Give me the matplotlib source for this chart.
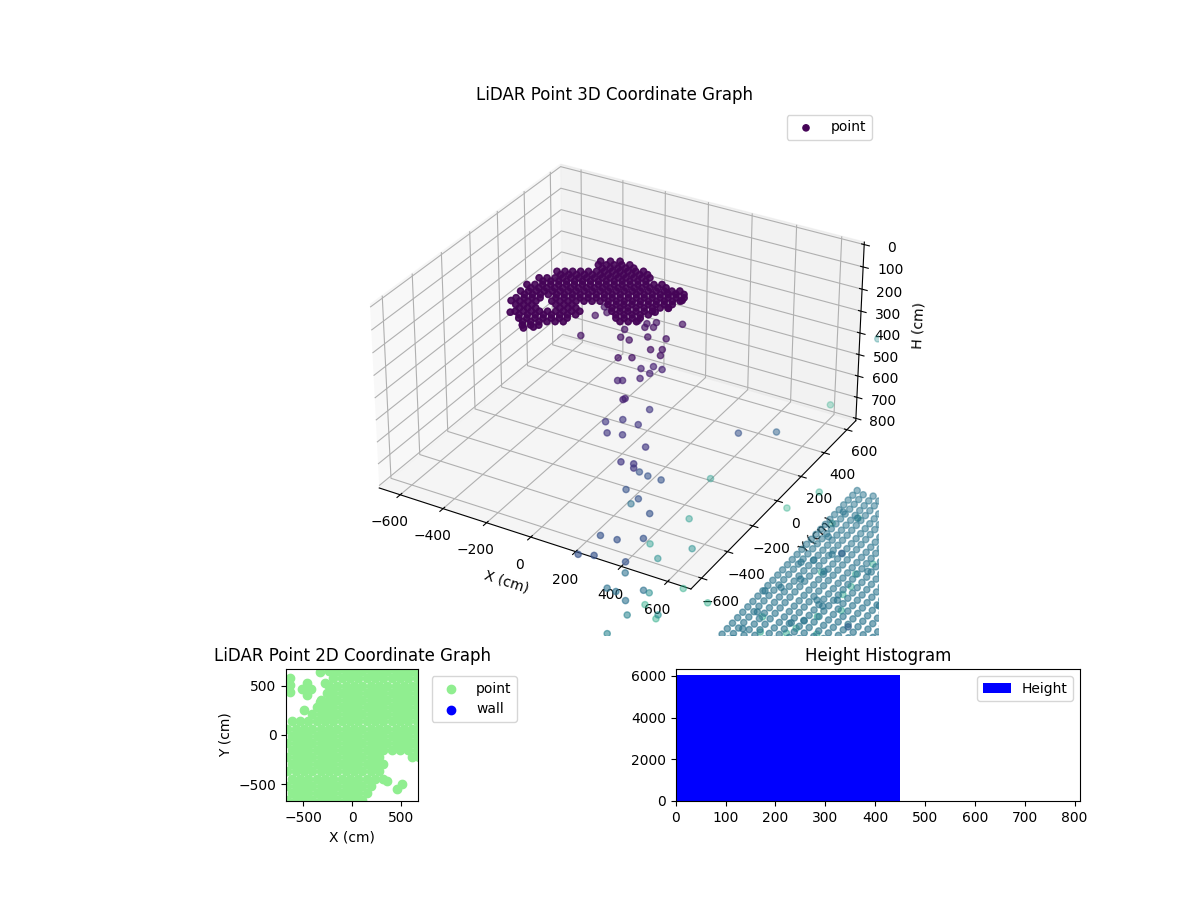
import numpy as np
import matplotlib
matplotlib.use("Agg")
import matplotlib.pyplot as plt

# wall ring near the top of the scan (cm)
wall_x = [-358, -330, -302, -275, -247,
          -475, -447, -420, -392, -364, -336, -309, -281, -254, -226, -198, -171,
          -509, -481, -453, -426, -398, -370, -343, -315, -288, -260, -232, -205, -177, -149, -121,
          -522, -494, -467, -439, -411, -384, -357, -329, -301, -273, -246, -218, -190, -162, -135, -107, -79, -51,
          -515, -487, -460, -432, -404, -377, -349, -322, -294, -266, -238, -211, -183, -155, -127, -100, -72, -44, -16, 11, 38,
          -501, -473, -446, -363, -335, -307, -280, -252, -224, -196, -169, -141, -113, -85, -58, -30, -3, 25, 52, 80,
          -473, -445, -417, -334, -306, -279, -155, -127, -101, -73, -45, -17, 10, 38, 66,
          -445, -417, -390, -362, -334, -306, -280, -252, -224, -114, -86, -59, -31, -3, 25,
          -404, -376, -348, -321, -293, -265, -239, -72, -44, -16, 11,
          -362, -334, -306,
          # second, denser pass
          -330, -302, -274, -247, -219,
          -447, -419, -392, -364, -336, -308, -281, -253, -226, -198, -170, -143,
          -481, -453, -425, -398, -370, -342, -315, -287, -260, -232, -204, -177, -149, -121,
          -494, -466, -439, -411, -383, -356, -329, -301, -273, -245, -218, -190, -162, -134, -107, -79, -51, -23,
          -487, -459, -432, -404, -376, -349, -321, -294, -266, -238, -210, -183, -155, -127, -99, -72, -44, -16, 12, 39, 66,
          -473, -445, -418, -335, -307, -279, -252, -224, -196, -168, -141, -113, -85, -57, -30, -2, 25, 53, 80,
          -445, -417, -389, -306, -278, -251, -127, -99, -73, -45, -17, 11, 38, 66,
          -417, -389, -362, -334, -306, -278, -252, -224, -86, -58, -31, -3, 25,
          -376, -348, -320, -293, -265, -237, -44, -16, 12,
          # outline and the inner patch
          -366, -331, -297, -506, -458, -346, -316, 84, 68, 38, -418, -363]
wall_y = [415, 430, 446, 461, 477,
          286, 302, 317, 333, 348, 364, 379, 395, 410, 426, 441, 457,
          205, 220, 236, 251, 267, 282, 298, 313, 329, 344, 360, 375, 391, 406, 422,
          134, 150, 165, 181, 196, 212, 227, 243, 258, 274, 289, 305, 320, 336, 351, 367, 382, 398,
          76, 91, 107, 122, 138, 153, 169, 184, 200, 215, 231, 246, 262, 277, 293, 308, 324, 339, 355, 370, 386,
          21, 36, 52, 98, 114, 129, 145, 160, 176, 191, 207, 222, 238, 253, 269, 284, 300, 315, 331, 346,
          -26, -11, 5, 51, 67, 82, 152, 168, 183, 199, 214, 230, 245, 261, 276,
          -73, -57, -42, -26, -11, 5, 20, 36, 51, 113, 128, 144, 159, 175, 190,
          -112, -97, -81, -66, -50, -35, -19, 74, 89, 105, 120,
          -152, -136, -121,
          399, 414, 430, 445, 461,
          270, 286, 301, 317, 332, 348, 363, 379, 394, 410, 425, 441,
          189, 204, 220, 235, 251, 266, 282, 297, 313, 328, 344, 359, 375, 390,
          118, 134, 149, 165, 180, 196, 211, 227, 242, 258, 273, 289, 304, 320, 335, 351, 366, 382,
          60, 75, 91, 106, 122, 137, 153, 168, 184, 199, 215, 230, 246, 261, 277, 292, 308, 323, 339, 354, 370,
          5, 20, 36, 82, 98, 113, 129, 144, 160, 175, 191, 206, 222, 237, 253, 268, 284, 299, 315,
          -42, -27, -11, 35, 51, 66, 136, 152, 167, 183, 198, 214, 229, 245,
          -89, -73, -58, -42, -27, -11, 4, 20, 97, 112, 128, 143, 159,
          -128, -113, -97, -82, -66, -51, 58, 73, 89,
          446, 465, 484, -8, -89, -169, -144, 323, 242, 190, 67, 67]
wall_h = 246
wall_passes = 2

# loose returns between the wall and the ground, plus one close to the sensor
loose_x = [-128, -94, -286, -290, -257, -252, -125, -107, -66, -113, -71, -42, -63, -33, 56, -14, 57, 46, 86, 103, -33, 14,
           -43, -79, -29, -1, -113, -96, -43, -19, -16,
           -117, -226, -173, -98, -176, -114, 15, -15, 37, 53,
           -220, -173, -109, -200, -119, -22, -116, -41, 48, -124, -64, 70, -4, -30,
           -460, -209, -218, -173, -76, -104, -240, -235,
           -375, -255, -478, -380, -490,
           -657, -713, -741,
           -580, -673, -570, -420, -473, -736,
           0]
loose_y = [575, 585, 270, 348, 313, 103, 230, 169, 166, 317, 314, 340, 284, 301, 379, 223, 246, 142, 165, 121, 25, 52,
           320, 282, 266, 317, 155, 165, 213, 39, 50,
           419, 248, 297, 294, 177, 195, 160, 16, 28, 1,
           514, 504, 505, 369, 333, 260, 22, 29, 89, -139, -114, -91, 992, 1405,
           852, 378, 243, 240, 305, 203, 279, 439,
           871, 743, 1126, 1273, 3435,
           1739, 1461, 2101,
           1552, 1347, 1273, 1506, 2416, 3411,
           -2300]
loose_h = [390, 390, 390, 390, 390, 390, 390, 390, 390, 390, 390, 390, 390, 390, 390, 390, 390, 390, 390, 390, 390, 390,
           585, 585, 585, 585, 585, 585, 585, 585, 585,
           863, 863, 863, 863, 863, 863, 863, 863, 863, 863,
           1254, 1254, 1254, 1254, 1254, 1254, 1254, 1254, 1254, 1254, 1254, 1254, 1254, 1480,
           1686, 1686, 1686, 1686, 1686, 1686, 1953, 1953,
           2149, 2149, 2149, 2149, 2149,
           2344, 2344, 2344,
           2612, 2612, 2612, 2612, 2612, 2612,
           200]

# ground returns, one list of y per x column
ground_h = 1758
ground_cols = [319, 358, 402, 442, 488, 528, 574, 614, 660, 702, 746, 790, 834, 878, 920]
ground_rows = [
    [1540, 1495, 1450, 1405, 1360, 1315, 1270, 1225, 1180, 1135, 1090, 1045, 1000, 955, 910, 865, 820, 775, 730, 685, 640, 595, 550, 505, 460, 415, 370, 325, 280, 235],
    [1522, 1477, 1432, 1387, 1342, 1297, 1252, 1207, 1162, 1117, 1072, 1027, 982, 937, 892, 847, 802, 757, 712, 667, 622, 577, 532, 487, 442, 397, 352, 307, 262],
    [1534, 1489, 1444, 1399, 1354, 1309, 1264, 1219, 1174, 1129, 1084, 1039, 994, 949, 904, 859, 814, 769, 724, 679, 634, 589, 544, 499, 454, 409, 364, 319],
    [1510, 1465, 1420, 1375, 1330, 1285, 1240, 1195, 1150, 1105, 1060, 1015, 970, 925, 880, 835, 790, 745, 700, 655, 610, 565, 520, 475, 430, 385, 340],
    [1416, 1371, 1326, 1281, 1236, 1191, 1146, 1101, 1056, 1011, 966, 921, 876, 831, 786, 741, 696, 651, 606, 561, 516, 471, 426, 381, 336],
    [1340, 1295, 1250, 1205, 1160, 1115, 1070, 1025, 980, 935, 890, 845, 800, 755, 710, 665, 620, 575, 530, 485, 440, 395, 355],
    [1252, 1207, 1162, 1117, 1072, 1027, 982, 937, 892, 847, 802, 757, 712, 667, 622, 577, 532, 487, 442, 397],
    [1175, 1130, 1085, 1040, 995, 950, 905, 860, 815, 770, 725, 680, 635, 590, 545, 500, 455, 410],
    [1083, 1038, 993, 948, 903, 858, 813, 768, 723, 678, 633, 588, 543, 498, 453],
    [1000, 955, 910, 865, 820, 775, 730, 685, 640, 595, 550, 505, 460],
    [915, 870, 825, 780, 735, 690, 645, 600, 555, 510],
    [830, 785, 740, 695, 650, 605, 560, 515],
    [745, 700, 655, 610, 565],
    [658, 613, 568],
    [578],
]
# second pass over the ground, on top of the first
extra_x = [343, 421, 375, 362, 402, 452, 375, 420, 327, 372, 376, 374, 533, 571, 552, 593, 628, 802, 645, 480,
           659, 918,
           -178, -88, -364, -105, -57, 53, 75, -32, 142, 146, 195, 118, 154, 455, 119, 180, 338]
extra_y = [1353, 1338, 1144, 910, 953, 1030, 700, 795, 644, 492, 356, 275, 493, 534, 692, 665, 734, 783, 990, 898,
           689, 234,
           2333, 2439, 2554, 1469, 1357, 1409, 1465, 1932, 1816, 1894, 1695, 1597, 2114, 1613, 1997, 1471, 1492]
extra_h = [1758, 1758, 1758, 1758, 1758, 1758, 1758, 1758, 1758, 1758, 1758, 1758, 1758, 1758, 1758, 1758, 1758, 1758, 1758, 1758,
           1480, 1480,
           2560, 2560, 2560, 2560, 2560, 2560, 2560, 2560, 2560, 2560, 2560, 2560, 2560, 2560, 2560, 2560, 2560]

# top view, one list of x per y row
plan_rows_y = [650, 577, 504, 431, 358, 285, 212, 139, 66, -7, -80, -153, -226, -299, -372, -445, -518, -591, -664]
plan_rows_x = [
    [-235, -150, -65, 20, 105, 190, 275, 360, 445, 530, 615, 680],
    [-192, -107, -22, 63, 148, 233, 318, 403, 488, 573, 658],
    [-235, -150, -65, 20, 105, 190, 275, 360, 445, 530, 615, 680],
    [-260, -192, -107, -22, 63, 148, 233, 318, 403, 488, 573, 658],
    [-320, -235, -150, -65, 20, 105, 190, 275, 360, 445, 530, 615, 680],
    [-362, -277, -192, -107, -22, 63, 148, 233, 318, 403, 488, 573, 658],
    [-405, -320, -235, -150, -65, 20, 105, 190, 275, 360, 445, 530, 615, 680],
    [-617, -532, -447, -362, -277, -192, -107, -22, 63, 148, 233, 318, 403, 488, 573, 658],
    [-660, -575, -490, -405, -320, -235, -150, -65, 20, 105, 190, 275, 360, 445, 530, 615, 680],
    [-617, -532, -447, -362, -277, -192, -107, -22, 63, 148, 233, 318, 403, 488, 573, 658],
    [-660, -575, -490, -405, -320, -235, -150, -65, 20, 105, 190, 275, 360, 445, 530, 615, 680],
    [-617, -532, -447, -362, -277, -192, -107, -22, 63, 148, 233, 318, 403, 488, 573, 658],
    [-660, -575, -490, -405, -320, -235, -150, -65, 20, 105, 190, 275, 615, 680],
    [-617, -532, -447, -362, -277, -192, -107, -22, 63, 148, 233, 318],
    [-660, -575, -490, -405, -320, -235, -150, -65, 20, 105, 190, 275],
    [-617, -532, -447, -362, -277, -192, -107, -22, 63, 148, 233, 318],
    [-660, -575, -490, -405, -320, -235, -150, -65, 20, 105, 190],
    [-617, -532, -447, -362, -277, -192, -107, -22, 63, 148],
    [-660, -575, -490, -405, -320, -235, -150, -65, 20, 105],
]
# single returns left inside the two empty patches
plan_spots_x = [-632, -632, -632, -462, -513, -462, -420, -326, -496, -326, -275, 353, 455, 507]
plan_spots_y = [578, 510, 442, 527, 466, 408, 470, 646, 255, 340, 527, -470, -554, -500]

hist_left = [0]
hist_width = [450]
hist_counts = [6030]

grid_x = [c for c, r in zip(ground_cols, ground_rows) for _ in r]
grid_y = [v for r in ground_rows for v in r]
xs = wall_x * wall_passes + loose_x + grid_x + extra_x
ys = wall_y * wall_passes + loose_y + grid_y + extra_y
hs = [wall_h] * (len(wall_x) * wall_passes) + loose_h + [ground_h] * len(grid_x) + extra_h

plan_x = [v for r in plan_rows_x for v in r] + plan_spots_x
plan_y = [y for y, r in zip(plan_rows_y, plan_rows_x) for _ in r] + plan_spots_y

fig = plt.figure(figsize=(12, 9), dpi=100)
gs = fig.add_gridspec(2, 2, height_ratios=[4, 1], hspace=0.1, wspace=0.3)

ax = fig.add_subplot(gs[0, :], projection="3d")
ax.scatter(xs, ys, hs, c=hs, cmap="viridis", vmin=200, vmax=4200, label="point")
ax.set_title("LiDAR Point 3D Coordinate Graph")
ax.set_xlabel("X (cm)")
ax.set_ylabel("Y (cm)")
ax.set_xlim(-699, 699)
ax.set_ylim(-680, 680)
ax.set_zlim(811, -11)
ax.set_zlabel("H (cm)")
ax.set_box_aspect((1360, 1360, 800))
ax.legend()

ax2 = fig.add_subplot(gs[1, 0])
ax2.scatter(plan_x, plan_y, s=36, c="lightgreen", label="point")
ax2.scatter([], [], s=36, c="blue", label="wall")
ax2.set_title("LiDAR Point 2D Coordinate Graph")
ax2.set_xlabel("X (cm)")
ax2.set_ylabel("Y (cm)")
ax2.set_aspect("equal")
ax2.set_xlim(-673, 673)
ax2.set_ylim(-673, 673)
ax2.legend(loc="upper left", bbox_to_anchor=(1.05, 1))

ax3 = fig.add_subplot(gs[1, 1])
ax3.bar(hist_left, hist_counts, width=hist_width, align="edge", color="blue", label="Height")
ax3.set_xlim(0, 811)
ax3.set_title("Height Histogram")
ax3.legend(loc="upper right")

fig.savefig("out.png")
